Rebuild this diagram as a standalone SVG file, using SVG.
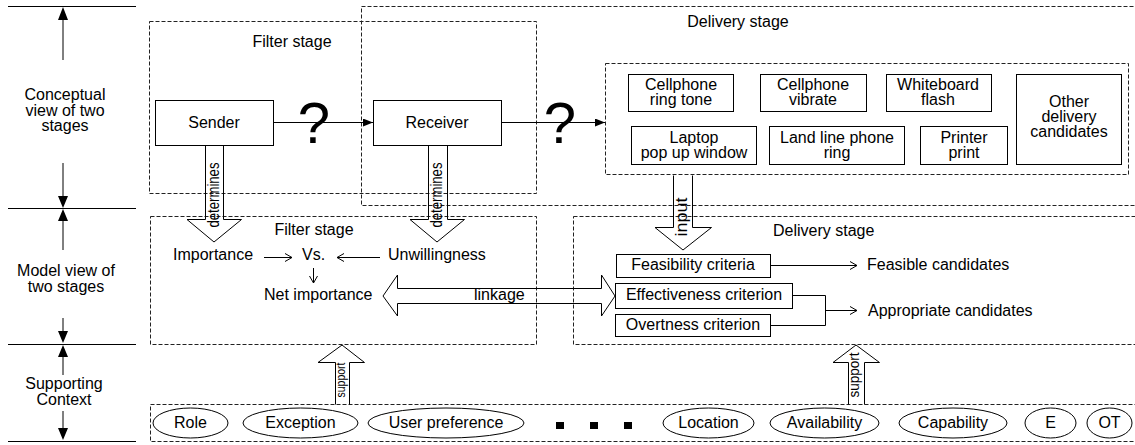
<svg xmlns="http://www.w3.org/2000/svg" width="1135" height="445" viewBox="0 0 1135 445">
<style>
text{font-family:"Liberation Sans",Arial,sans-serif;font-size:16px;fill:#000}
.m{text-anchor:middle}
.box{fill:#fff;stroke:#000;stroke-width:1}
.dash{fill:none;stroke:#222;stroke-width:1;stroke-dasharray:4 2}
.ln{fill:none;stroke:#000;stroke-width:1}
.blk{fill:none;stroke:#000;stroke-width:1;stroke-linejoin:miter}
.ell{fill:#fff;stroke:#000;stroke-width:1}
.q{font-size:58px}
</style>
<defs>
<marker id="tri" markerWidth="10" markerHeight="8" refX="10" refY="4" orient="auto" markerUnits="userSpaceOnUse">
<path d="M0,0 L10,4 L0,8 Z" fill="#000"/>
</marker>
<marker id="chev" markerWidth="8" markerHeight="10" refX="7" refY="5" orient="auto" markerUnits="userSpaceOnUse">
<path d="M0,1 L7,5 L0,9" fill="none" stroke="#000" stroke-width="1"/>
</marker>
</defs>

<!-- left scale -->
<g id="scale">
<path class="ln" d="M8,6.5H136M8,208.5H136M8,344.5H136M8,441.5H136"/>
<path d="M63,7 L58,20 L68,20 Z M63,208 L58,196 L68,196 Z" fill="#000"/>
<path class="ln" d="M63,20V60M63,163V196"/>
<path d="M63,209 L58,221 L68,221 Z M63,343 L58,331 L68,331 Z" fill="#000"/>
<path class="ln" d="M63,221V250M63,318V331"/>
<path d="M63,345 L58,357 L68,357 Z M63,440 L58,428 L68,428 Z" fill="#000"/>
<path class="ln" d="M63,357V375M63,411V428"/>
<text class="m" x="65" y="100">Conceptual</text>
<text class="m" x="65" y="116">view of two</text>
<text class="m" x="65" y="131">stages</text>
<text class="m" x="66" y="276">Model view of</text>
<text class="m" x="66" y="292">two stages</text>
<text class="m" x="64" y="389">Supporting</text>
<text class="m" x="64" y="405">Context</text>
</g>

<!-- stage containers -->
<g id="conceptual-filter-stage">
<rect class="dash" x="149.5" y="21.5" width="387" height="172"/>
<text class="m" x="292" y="47">Filter stage</text>
</g>
<g id="conceptual-delivery-stage">
<rect class="dash" x="361.5" y="6.5" width="785" height="199"/>
<text class="m" x="738" y="27">Delivery stage</text>
</g>
<g id="candidates">
<rect class="dash" x="605.5" y="63.5" width="523" height="111"/>
</g>
<g id="model-filter-stage">
<rect class="dash" x="150.5" y="216.5" width="386" height="128"/>
<text class="m" x="314" y="235">Filter stage</text>
</g>
<g id="model-delivery-stage">
<rect class="dash" x="573.5" y="216.5" width="575" height="128"/>
<text x="773" y="236">Delivery stage</text>
</g>
<g id="context">
<rect class="dash" x="150.5" y="404.5" width="995" height="37"/>
</g>

<!-- nodes -->
<g id="sender"><rect class="box" x="155.5" y="100.5" width="118" height="45"/><text class="m" x="214" y="128">Sender</text></g>
<g id="receiver"><rect class="box" x="373.5" y="100.5" width="128" height="45"/><text class="m" x="437" y="128">Receiver</text></g>

<g id="cellphone-ring-tone"><rect class="box" x="628.5" y="74.5" width="105" height="37"/><text class="m" x="681" y="90">Cellphone</text><text class="m" x="681" y="105">ring tone</text></g>
<g id="cellphone-vibrate"><rect class="box" x="760.5" y="74.5" width="106" height="37"/><text class="m" x="813" y="90">Cellphone</text><text class="m" x="813" y="105">vibrate</text></g>
<g id="whiteboard-flash"><rect class="box" x="886.5" y="74.5" width="105" height="37"/><text class="m" x="938" y="90">Whiteboard</text><text class="m" x="938" y="105">flash</text></g>
<g id="other-candidates"><rect class="box" x="1016.5" y="74.5" width="105" height="90"/><text class="m" x="1069" y="107">Other</text><text class="m" x="1069" y="122">delivery</text><text class="m" x="1069" y="137">candidates</text></g>
<g id="laptop"><rect class="box" x="631.5" y="126.5" width="125" height="38"/><text class="m" x="694" y="143">Laptop</text><text class="m" x="694" y="158">pop up window</text></g>
<g id="land-line"><rect class="box" x="769.5" y="126.5" width="135" height="38"/><text class="m" x="837" y="143">Land line phone</text><text class="m" x="837" y="158">ring</text></g>
<g id="printer"><rect class="box" x="920.5" y="126.5" width="87" height="38"/><text class="m" x="964" y="143">Printer</text><text class="m" x="964" y="158">print</text></g>

<g id="importance"><text x="173" y="260">Importance</text></g>
<g id="vs"><text x="302" y="260">Vs.</text></g>
<g id="unwillingness"><text x="388" y="260">Unwillingness</text></g>
<g id="net-importance"><text x="264" y="300">Net importance</text></g>

<g id="feasibility"><rect class="box" x="616.5" y="254.5" width="154" height="23"/><text class="m" x="693" y="270">Feasibility criteria</text></g>
<g id="effectiveness"><rect class="box" x="615.5" y="283.5" width="177" height="25"/><text class="m" x="704" y="300">Effectiveness criterion</text></g>
<g id="overtness"><rect class="box" x="615.5" y="314.5" width="155" height="22"/><text class="m" x="693" y="330">Overtness criterion</text></g>
<g id="feasible-candidates"><text x="867" y="270">Feasible candidates</text></g>
<g id="appropriate-candidates"><text x="868" y="316">Appropriate candidates</text></g>

<g id="role"><ellipse class="ell" cx="190.5" cy="423" rx="37.5" ry="15"/><text class="m" x="190.5" y="428">Role</text></g>
<g id="exception"><ellipse class="ell" cx="300.5" cy="423" rx="57.5" ry="15"/><text class="m" x="300.5" y="428">Exception</text></g>
<g id="user-preference"><ellipse class="ell" cx="446" cy="423" rx="78" ry="15"/><text class="m" x="446" y="428">User preference</text></g>
<g id="ellipsis"><rect x="556" y="422" width="8" height="7"/><rect x="590" y="422" width="8" height="7"/><rect x="624" y="422" width="8" height="7"/></g>
<g id="location"><ellipse class="ell" cx="708.5" cy="423" rx="45.5" ry="15"/><text class="m" x="708.5" y="428">Location</text></g>
<g id="availability"><ellipse class="ell" cx="824.5" cy="423" rx="54.5" ry="15"/><text class="m" x="824.5" y="428">Availability</text></g>
<g id="capability"><ellipse class="ell" cx="953" cy="423" rx="54" ry="15"/><text class="m" x="953" y="428">Capability</text></g>
<g id="e"><ellipse class="ell" cx="1050.5" cy="423" rx="25.5" ry="15"/><text class="m" x="1050.5" y="428">E</text></g>
<g id="ot"><ellipse class="ell" cx="1109.5" cy="423" rx="22.5" ry="15"/><text class="m" x="1109.5" y="428">OT</text></g>

<!-- connectors -->
<g id="connectors">
<path class="ln" d="M273.5,122.5H373" marker-end="url(#tri)"/>
<text class="m q" x="314" y="143">?</text>
<path class="ln" d="M501.5,122.5H605" marker-end="url(#tri)"/>
<text class="m q" x="560" y="143">?</text>

<path class="blk" d="M205.5,145.5V219.5H187L214,242L241.5,219.5H223.5V145.5"/>
<text class="m" style="font-size:16px" textLength="65" lengthAdjust="spacingAndGlyphs" transform="translate(219,195) rotate(-90)">determines</text>
<path class="blk" d="M428.5,145.5V219.5H410L437,242L464.5,219.5H447.5V145.5"/>
<text class="m" style="font-size:16px" textLength="65" lengthAdjust="spacingAndGlyphs" transform="translate(442,195) rotate(-90)">determines</text>
<path class="blk" d="M673.5,175.5V227.5H655L683,250L711.5,227.5H692.5V175.5"/>
<text class="m" style="font-size:16px" textLength="39" lengthAdjust="spacingAndGlyphs" transform="translate(687,217) rotate(-90)">input</text>

<path class="blk" d="M335.5,404.5V362.5H318L342,345L364.5,362.5H349.5V404.5"/>
<text class="m" style="font-size:13px" textLength="35" lengthAdjust="spacingAndGlyphs" transform="translate(345,380) rotate(-90)">support</text>
<path class="blk" d="M848.5,404.5V362.5H833L856,345L879.5,362.5H864.5V404.5"/>
<text class="m" style="font-size:14px" textLength="45" lengthAdjust="spacingAndGlyphs" transform="translate(859,375) rotate(-90)">support</text>

<path class="blk" d="M383,296L397.5,275V288.5H601.5V275L615,296L601.5,316V303.5H397.5V316Z"/>
<text x="474" y="300">linkage</text>

<path class="ln" d="M264,257.5H292" marker-end="url(#chev)"/>
<path class="ln" d="M380,257.5H337" marker-end="url(#chev)"/>
<path class="ln" d="M313.5,268V283" marker-end="url(#chev)"/>

<path class="ln" d="M770.5,265.5H857" marker-end="url(#chev)"/>
<path class="ln" d="M792.5,295.5H825.5V325.5H770.5"/>
<path class="ln" d="M825.5,310.5H857" marker-end="url(#chev)"/>
</g>
</svg>
